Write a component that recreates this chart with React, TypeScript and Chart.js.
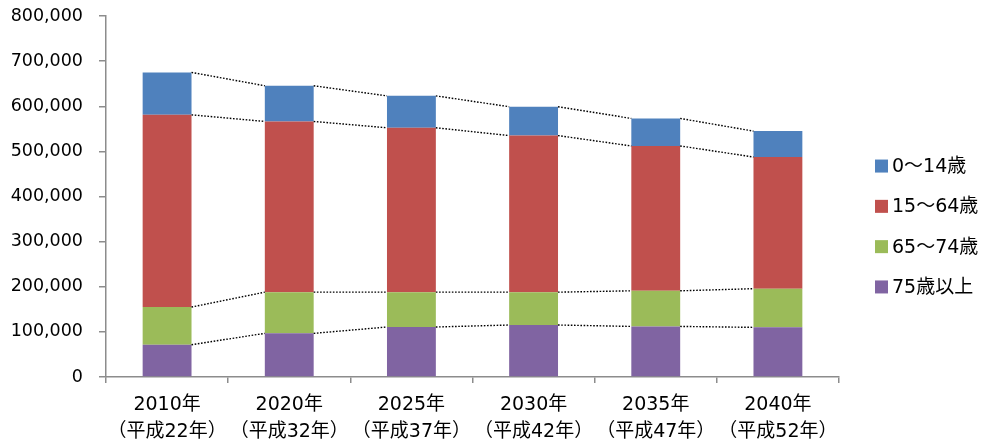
import React, { useEffect, useRef } from "react";
import { Chart, registerables } from "chart.js";

Chart.register(...registerables);

const categories: string[][] = [
  ["2010年", "（平成22年）"],
  ["2020年", "（平成32年）"],
  ["2025年", "（平成37年）"],
  ["2030年", "（平成42年）"],
  ["2035年", "（平成47年）"],
  ["2040年", "（平成52年）"],
];

const age75plus = [71600, 96700, 110800, 115200, 112100, 110000];
const age65to74 = [83400, 91300, 77200, 72800, 78900, 85700];
const age15to64 = [426000, 378300, 364300, 347000, 321000, 291800];
const age0to14 = [94000, 79100, 70700, 64000, 61000, 57400];

const seriesLabels = ["75歳以上", "65〜74歳", "15〜64歳", "0〜14歳"];
const seriesColors = ["#8064A2", "#9BBB59", "#C0504D", "#4F81BD"];

const yMax = 800000;
const yStep = 100000;

const FONT_NUM = "'DejaVu Sans', 'Noto Sans CJK JP', sans-serif";
const FONT_JP = "'DejaVu Sans', 'Noto Sans CJK JP', sans-serif";

const seriesLinesPlugin = {
  id: "seriesLines",
  afterDatasetsDraw(chart: any) {
    const ctx = chart.ctx;
    ctx.save();
    ctx.strokeStyle = "#000";
    ctx.lineWidth = 1.4;
    ctx.setLineDash([1.6, 1.6]);
    chart.data.datasets.forEach((_: any, di: number) => {
      const meta = chart.getDatasetMeta(di);
      const els = meta.data;
      for (let i = 0; i < els.length - 1; i++) {
        const a = els[i];
        const b = els[i + 1];
        ctx.beginPath();
        ctx.moveTo(a.x + a.width / 2, a.y);
        ctx.lineTo(b.x - b.width / 2, b.y);
        ctx.stroke();
      }
    });
    ctx.restore();
  },
};

const legendPlugin = {
  id: "customLegend",
  afterDraw(chart: any) {
    const ctx = chart.ctx;
    const ds = chart.data.datasets;
    const n = ds.length;
    const spacing = 40.3;
    const centerY = chart.height / 2 + 2.5;
    const startY = centerY - ((n - 1) * spacing) / 2;
    const boxX = chart.chartArea.right + 36;
    const box = 13;
    ctx.save();
    ctx.font = `19px ${FONT_JP}`;
    ctx.textBaseline = "middle";
    ctx.textAlign = "left";
    for (let k = 0; k < n; k++) {
      const d = ds[n - 1 - k];
      const cy = startY + k * spacing;
      ctx.fillStyle = d.backgroundColor;
      ctx.fillRect(boxX, cy - box / 2, box, box);
      ctx.fillStyle = "#000";
      ctx.fillText(d.label, boxX + box + 4, cy + 1);
    }
    ctx.restore();
  },
};

export default function App() {
  const canvasRef = useRef<HTMLCanvasElement | null>(null);

  useEffect(() => {
    if (!canvasRef.current) return;
    const seriesData = [age75plus, age65to74, age15to64, age0to14];
    const chart = new Chart(canvasRef.current, {
      type: "bar",
      data: {
        labels: categories,
        datasets: seriesData.map((d, i) => ({
          label: seriesLabels[i],
          data: d,
          backgroundColor: seriesColors[i],
          borderWidth: 0,
          barPercentage: 0.4,
          categoryPercentage: 1.0,
        })),
      },
      options: {
        animation: false,
        responsive: true,
        maintainAspectRatio: false,
        layout: { padding: { top: 16, right: 144, left: 0, bottom: 0 } },
        plugins: {
          legend: { display: false },
          tooltip: { enabled: false },
        },
        scales: {
          x: {
            stacked: true,
            grid: {
              display: true,
              drawOnChartArea: false,
              drawTicks: true,
              tickLength: 6,
              color: "#8c8c8c",
              lineWidth: 1.5,
            },
            border: { display: true, color: "#8c8c8c", width: 1.5 },
            ticks: {
              color: "#000",
              font: { family: FONT_JP, size: 19, lineHeight: 1.42 },
              padding: 9,
              maxRotation: 0,
              autoSkip: false,
            },
            afterFit: (scale: any) => {
              scale.height = 71;
              scale.paddingLeft = 0;
              scale.paddingRight = 0;
            },
          },
          y: {
            stacked: true,
            min: 0,
            max: yMax,
            grid: {
              display: true,
              drawOnChartArea: false,
              drawTicks: true,
              tickLength: 7,
              color: "#8c8c8c",
              lineWidth: 1.5,
            },
            border: { display: true, color: "#8c8c8c", width: 1.5 },
            ticks: {
              stepSize: yStep,
              color: "#000",
              font: { family: FONT_NUM, size: 17.5 },
              padding: 16,
              callback: (v: any) => Number(v).toLocaleString("en-US"),
            },
            afterFit: (scale: any) => {
              scale.width = 106;
              scale.paddingTop = 0;
              scale.paddingBottom = 0;
            },
          },
        },
      },
      plugins: [seriesLinesPlugin, legendPlugin],
    });
    return () => chart.destroy();
  }, []);

  return (
    <div style={{ position: "fixed", left: 0, top: 0, width: 983, height: 448, background: "#fff" }}>
      <canvas ref={canvasRef} />
    </div>
  );
}
